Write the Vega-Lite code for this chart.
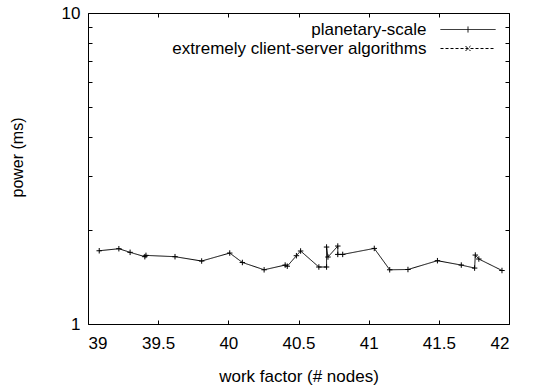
{
  "$schema": "https://vega.github.io/schema/vega-lite/v6.json",
  "width": 421,
  "height": 311,
  "autosize": "none",
  "padding": {"left": 88, "top": 13, "right": 25, "bottom": 65},
  "background": "white",
  "config": {
    "view": {"stroke": "black", "strokeWidth": 1},
    "font": "Liberation Sans",
    "axis": {
      "domain": false,
      "grid": false,
      "tickColor": "black",
      "tickWidth": 1,
      "tickSize": -4,
      "labelColor": "black",
      "titleColor": "black",
      "labelFont": "Liberation Sans",
      "titleFont": "Liberation Sans",
      "labelFontSize": 17,
      "titleFontSize": 17,
      "titleFontWeight": "normal"
    },
    "legend": {"labelFont": "Liberation Sans"}
  },
  "data": {
    "values": [
      {"i": 1, "series": "planetary-scale", "x": 39.08, "y": 1.72},
      {"i": 2, "series": "planetary-scale", "x": 39.22, "y": 1.746},
      {"i": 3, "series": "planetary-scale", "x": 39.30, "y": 1.70},
      {"i": 4, "series": "planetary-scale", "x": 39.405, "y": 1.646},
      {"i": 5, "series": "planetary-scale", "x": 39.413, "y": 1.662},
      {"i": 6, "series": "planetary-scale", "x": 39.62, "y": 1.646},
      {"i": 7, "series": "planetary-scale", "x": 39.81, "y": 1.594},
      {"i": 8, "series": "planetary-scale", "x": 40.01, "y": 1.691},
      {"i": 9, "series": "planetary-scale", "x": 40.10, "y": 1.577},
      {"i": 10, "series": "planetary-scale", "x": 40.255, "y": 1.494},
      {"i": 11, "series": "planetary-scale", "x": 40.405, "y": 1.547},
      {"i": 12, "series": "planetary-scale", "x": 40.42, "y": 1.534},
      {"i": 13, "series": "planetary-scale", "x": 40.485, "y": 1.658},
      {"i": 14, "series": "planetary-scale", "x": 40.515, "y": 1.717},
      {"i": 15, "series": "planetary-scale", "x": 40.645, "y": 1.525},
      {"i": 16, "series": "planetary-scale", "x": 40.70, "y": 1.525},
      {"i": 17, "series": "planetary-scale", "x": 40.70, "y": 1.768},
      {"i": 18, "series": "planetary-scale", "x": 40.71, "y": 1.642},
      {"i": 19, "series": "planetary-scale", "x": 40.78, "y": 1.781},
      {"i": 20, "series": "planetary-scale", "x": 40.78, "y": 1.674},
      {"i": 21, "series": "planetary-scale", "x": 40.815, "y": 1.674},
      {"i": 22, "series": "planetary-scale", "x": 41.04, "y": 1.75},
      {"i": 23, "series": "planetary-scale", "x": 41.15, "y": 1.494},
      {"i": 24, "series": "planetary-scale", "x": 41.28, "y": 1.497},
      {"i": 25, "series": "planetary-scale", "x": 41.49, "y": 1.598},
      {"i": 26, "series": "planetary-scale", "x": 41.66, "y": 1.547},
      {"i": 27, "series": "planetary-scale", "x": 41.755, "y": 1.513},
      {"i": 28, "series": "planetary-scale", "x": 41.76, "y": 1.666},
      {"i": 29, "series": "planetary-scale", "x": 41.785, "y": 1.618},
      {"i": 30, "series": "planetary-scale", "x": 41.95, "y": 1.486}
    ]
  },
  "layer": [
    {
      "mark": {"type": "line", "color": "black", "strokeWidth": 1},
      "encoding": {
        "x": {
          "field": "x", "type": "quantitative",
          "scale": {"domain": [39, 42], "nice": false, "zero": false},
          "axis": {
            "orient": "bottom",
            "values": [39, 39.5, 40, 40.5, 41, 41.5, 42],
            "labelExpr": "datum.value + ''",
            "labelPadding": 15,
            "title": "work factor (# nodes)",
            "titleX": 210.5,
            "titleY": 52,
            "titleBaseline": "middle",
            "titleAlign": "center"
          }
        },
        "y": {
          "field": "y", "type": "quantitative",
          "scale": {"type": "log", "domain": [1, 10], "nice": false},
          "axis": {
            "orient": "left",
            "values": [1, 2, 3, 4, 5, 6, 7, 8, 9, 10],
            "labelExpr": "datum.value == 1 || datum.value == 10 ? datum.value + '' : ''",
            "labelPadding": 12,
            "title": "power (ms)",
            "titleFontSize": 16,
            "titleX": -71,
            "titleY": 144,
            "titleAngle": 270,
            "titleBaseline": "middle",
            "titleAlign": "center"
          }
        },
        "strokeDash": {
          "field": "series", "type": "nominal",
          "scale": {
            "domain": ["planetary-scale", "extremely client-server algorithms"],
            "range": [[1, 0], [3, 2]]
          },
          "legend": {
            "orient": "none",
            "legendX": 369.5,
            "legendY": 6,
            "title": null,
            "padding": 0,
            "rowPadding": -4,
            "labelAlign": "right",
            "labelOffset": -52,
            "labelFontSize": 17,
            "labelColor": "black",
            "labelLimit": 0,
            "symbolSize": 400,
            "symbolType": "M-2.75,0H2.75M0,-0.3V0.3",
            "symbolStrokeColor": "black",
            "symbolStrokeWidth": 1,
            "encode": {
              "symbols": {
                "update": {
                  "shape": {"signal": "datum.value === 'planetary-scale' ? 'M-2.75,0H2.75M0,-0.3V0.3' : 'M-2.75,0H2.75M-0.25,-0.25L0.25,0.25M-0.25,0.25L0.25,-0.25'"},
                  "size": {"value": 400},
                  "stroke": {"value": "black"},
                  "fill": {"value": "transparent"}
                }
              }
            }
          }
        },
        "order": {"field": "i", "type": "quantitative"}
      }
    },
    {
      "mark": {"type": "point", "shape": "M-1,0H1M0,-1V1", "filled": false, "stroke": "black", "strokeWidth": 1, "size": 30, "opacity": 1},
      "encoding": {
        "x": {
          "field": "x", "type": "quantitative",
          "scale": {"domain": [39, 42], "nice": false, "zero": false},
          "axis": {"orient": "top", "values": [39, 39.5, 40, 40.5, 41, 41.5, 42], "labels": false, "title": null}
        },
        "y": {
          "field": "y", "type": "quantitative",
          "scale": {"type": "log", "domain": [1, 10], "nice": false},
          "axis": {"orient": "right", "values": [1, 2, 3, 4, 5, 6, 7, 8, 9, 10], "labels": false, "title": null}
        }
      }
    }
  ],
  "resolve": {"axis": {"x": "independent", "y": "independent"}}
}
